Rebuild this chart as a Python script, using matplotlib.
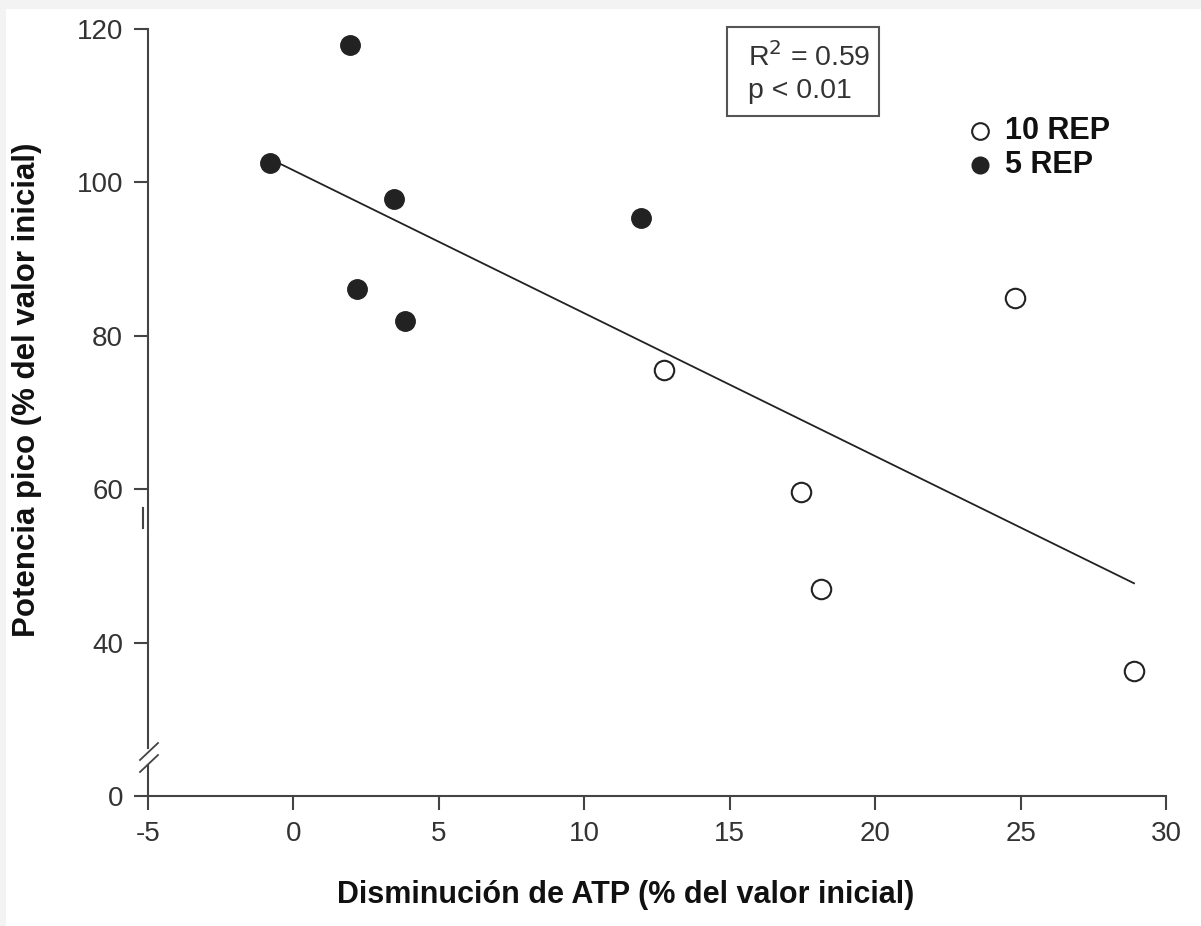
import matplotlib.pyplot as plt
import numpy as np
from matplotlib.patches import Rectangle

# 5 REP (filled) and 10 REP (open)
atp_5rep = [-0.8, 1.95, 3.45, 2.2, 3.85, 11.95]
pot_5rep = [102.5, 117.9, 97.9, 86.1, 81.9, 95.3]
atp_10rep = [12.75, 17.45, 18.15, 24.8, 28.9]
pot_10rep = [75.6, 59.7, 47.0, 84.9, 36.3]

x_ticks = [-5, 0, 5, 10, 15, 20, 25, 30]
# y axis is broken below 40: the bottom tick stands for 0
y_tick_pos = [20, 40, 60, 80, 100, 120]
y_tick_labels = ['0', '40', '60', '80', '100', '120']

plt.rcParams['font.family'] = ['Liberation Sans', 'DejaVu Sans']

W, H = 1201, 926
fig = plt.figure(figsize=(W / 100, H / 100), dpi=100, facecolor='#f3f3f3')
fig.patches.append(Rectangle((6 / W, 0), 1, 1 - 9 / H, transform=fig.transFigure,
                             facecolor='white', edgecolor='none', zorder=-10))
ax = fig.add_axes([148 / W, 1 - 796 / H, 1018 / W, 767 / H])
ax.set_facecolor('none')


def ax_x(px):
    return (px - 148) / 1018


def ax_y(py):
    return (796 - py) / 767


all_x = np.array(atp_5rep + atp_10rep)
all_y = np.array(pot_5rep + pot_10rep)
slope, intercept = np.polyfit(all_x, all_y, 1)
xs = np.array([all_x.min(), all_x.max()])
ax.plot(xs, slope * xs + intercept, color='#222222', lw=1.3, zorder=2)

ax.plot(atp_5rep, pot_5rep, 'o', ms=14, color='#222222', mec='#222222', zorder=3)
ax.plot(atp_10rep, pot_10rep, 'o', ms=14, mfc='white', mec='#222222', mew=1.5, zorder=3)

ax.set_xlim(-5, 30)
ax.set_ylim(20, 120)
ax.set_xticks(x_ticks)
ax.set_xticklabels([str(t) for t in x_ticks])
ax.set_yticks(y_tick_pos)
ax.set_yticklabels(y_tick_labels)

for s in ['top', 'right', 'left']:
    ax.spines[s].set_visible(False)
ax.spines['bottom'].set_color('#444444')
ax.spines['bottom'].set_linewidth(1.5)

# left axis with a break
axis_kw = dict(transform=ax.transAxes, color='#444444', clip_on=False)
ax.plot([0, 0], [1, ax_y(748)], lw=1.5, **axis_kw)
ax.plot([0, 0], [ax_y(765), 0], lw=1.5, **axis_kw)
for y0 in [760, 772]:
    ax.plot([ax_x(140), ax_x(158)], [ax_y(y0), ax_y(y0 - 17)], lw=1.3, **axis_kw)
ax.plot([ax_x(143), ax_x(143)], [ax_y(508), ax_y(528)], lw=1.5, **axis_kw)

ax.tick_params(axis='both', direction='out', length=10, width=1.5, color='#444444',
               labelsize=20, labelcolor='#333333', pad=8)

ax.set_xlabel('Disminución de ATP (% del valor inicial)', fontsize=22,
              fontweight='bold', color='#111111')
ax.xaxis.set_label_coords(ax_x(626), ax_y(880))
ax.set_ylabel('Potencia pico (% del valor inicial)', fontsize=22.5,
              fontweight='bold', color='#111111')
ax.yaxis.set_label_coords(ax_x(42), ax_y(390))

# stats box
ax.add_patch(Rectangle((ax_x(727), ax_y(116)), 152 / 1018, 89 / 767, transform=ax.transAxes,
                       facecolor='white', edgecolor='#555555', lw=1.5, clip_on=False))
ax.text(ax_x(748), ax_y(66.5), 'R$^2$ = 0.59', transform=ax.transAxes, fontsize=20.5,
        color='#333333', va='baseline', ha='left')
ax.text(ax_x(748), ax_y(98), 'p < 0.01', transform=ax.transAxes, fontsize=20.5,
        color='#333333', va='baseline', ha='left')

# legend
ax.plot([ax_x(980)], [ax_y(131)], 'o', ms=12, mfc='white', mec='#222222', mew=1.5,
        transform=ax.transAxes, clip_on=False)
ax.plot([ax_x(980)], [ax_y(165)], 'o', ms=12, color='#222222', transform=ax.transAxes,
        clip_on=False)
ax.text(ax_x(1005), ax_y(131), '10 REP', transform=ax.transAxes, fontsize=22,
        fontweight='bold', va='center', color='#111111')
ax.text(ax_x(1005), ax_y(165), '5 REP', transform=ax.transAxes, fontsize=22,
        fontweight='bold', va='center', color='#111111')

fig.savefig('out.png', dpi=100, facecolor=fig.get_facecolor())
